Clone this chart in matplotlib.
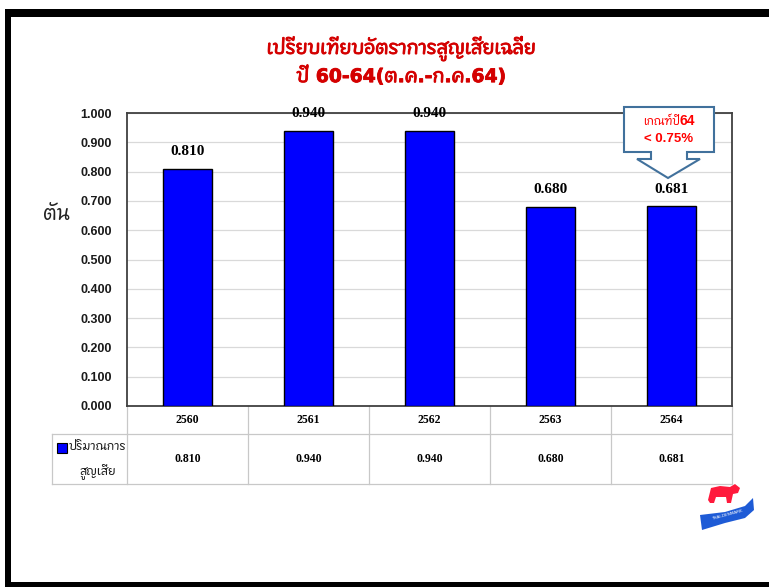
import matplotlib
matplotlib.use('Agg')
import matplotlib.pyplot as plt
import matplotlib.transforms as mtransforms
import matplotlib.patheffects as pe
from matplotlib.patches import Rectangle, Polygon
from matplotlib.lines import Line2D
from matplotlib import font_manager
from matplotlib.ft2font import FT2Font

years = ['2560', '2561', '2562', '2563', '2564']
loss = [0.810, 0.940, 0.940, 0.680, 0.681]
yticks = [0.0, 0.1, 0.2, 0.3, 0.4, 0.5, 0.6, 0.7, 0.8, 0.9, 1.0]
title = 'เปรียบเทียบอัตราการสูญเสียเฉลี่ย\nปี 60-64(ต.ค.-ก.ค.64)'
ylabel = 'ตัน'
series_name = ['ปริมาณการ', 'สูญเสีย']


# find any installed family that has Thai glyphs
def thai_family():
    best = None
    for f in font_manager.fontManager.ttflist:
        try:
            cmap = FT2Font(f.fname).get_charmap()
        except Exception:
            continue
        if 0x0E15 in cmap and 0x0E31 in cmap:
            if best is None or 'Sans' in f.name:
                best = f.name
    return best


TH = thai_family()
fam = [TH, 'DejaVu Sans'] if TH else ['DejaVu Sans']
plt.rcParams['font.family'] = fam
latin_first = ['DejaVu Sans', TH] if TH else ['DejaVu Sans']

W, H = 769, 587
fig = plt.figure(figsize=(W / 100, H / 100), dpi=100)


def fx(px):
    return px / W


def fy(py):
    return 1 - py / H


# black frame
for (x0, y0, x1, y1) in [(5, 9, 769, 17), (5, 9, 11, 587), (5, 582, 769, 587)]:
    fig.add_artist(Rectangle((fx(x0), fy(y1)), fx(x1) - fx(x0), fy(y0) - fy(y1),
                             transform=fig.transFigure, color='black', lw=0))

ax = fig.add_axes([fx(127), fy(406), fx(732) - fx(127), fy(113) - fy(406)])
x = list(range(len(years)))
ax.bar(x, loss, width=0.4, color='#0000ff', edgecolor='black', linewidth=1, zorder=3)
ax.set_xlim(-0.5, len(years) - 0.5)
ax.set_ylim(0, 1.0)
ax.set_yticks(yticks)
ax.set_yticklabels([f'{v:.3f}' for v in yticks], family='Liberation Sans',
                   fontweight='bold', fontsize=9, color='#1a1a1a')
ax.set_xticks([])
ax.tick_params(axis='y', length=0, pad=11)
ax.grid(axis='y', color='#d9d9d9', lw=0.9, zorder=0)
for s in ax.spines.values():
    s.set_color('#404040')
    s.set_linewidth(1.3)

for i, v in enumerate(loss):
    ax.annotate(f'{v:.3f}', (i, v), xytext=(0, 12.5), textcoords='offset points',
                ha='center', va='center', family='Liberation Serif',
                fontweight='bold', fontsize=11, zorder=5, annotation_clip=False)

# data table below the axis
tr = mtransforms.blended_transform_factory(ax.transData, ax.transAxes)
axh = 406 - 113
r1 = -(434 - 406) / axh
r2 = -(484 - 406) / axh
xl = -0.5 - 75 / 121
tc = '#c8c8c8'
ax.add_line(Line2D([xl, 4.5], [r1, r1], transform=tr, color=tc, lw=0.9, clip_on=False))
ax.add_line(Line2D([xl, 4.5], [r2, r2], transform=tr, color=tc, lw=0.9, clip_on=False))
ax.add_line(Line2D([xl, xl], [r1, r2], transform=tr, color=tc, lw=0.9, clip_on=False))
for b in [i - 0.5 for i in range(len(years) + 1)]:
    ax.add_line(Line2D([b, b], [0, r2], transform=tr, color=tc, lw=0.9, clip_on=False))
for i, (yr, v) in enumerate(zip(years, loss)):
    ax.text(i, r1 / 2, yr, transform=tr, ha='center', va='center',
            family='Liberation Serif', fontweight='bold', fontsize=8.5)
    ax.text(i, (r1 + r2) / 2, f'{v:.3f}', transform=tr, ha='center', va='center',
            family='Liberation Serif', fontweight='bold', fontsize=8.5)

fig.add_artist(Rectangle((fx(57), fy(453)), fx(67) - fx(57), fy(443) - fy(453),
                         transform=fig.transFigure, facecolor='#0000ff',
                         edgecolor='black', lw=0.8))
fig.text(fx(98), fy(447), series_name[0], ha='center', va='center', fontsize=8.5, color='#1a1a1a')
fig.text(fx(98), fy(471), series_name[1], ha='center', va='center', fontsize=8.5, color='#1a1a1a')

fig.text(fx(56), fy(214), ylabel, ha='center', va='center', fontsize=14, color='#222222')

fig.text(fx(401), fy(61), title, ha='center', va='center', fontsize=13.5,
         fontweight='bold', color='#d40000', linespacing=1.3, family=latin_first,
         path_effects=[pe.withStroke(linewidth=0.6, foreground='#d40000')])

# callout arrow
pts = [(624, 107), (714, 107), (714, 152), (687, 152), (687, 159), (700, 159),
       (668, 178), (637, 159), (651, 159), (651, 152), (624, 152)]
fig.add_artist(Polygon([(fx(a), fy(b)) for a, b in pts], closed=True,
                       transform=fig.transFigure, facecolor='white',
                       edgecolor='#41719c', lw=1.5, zorder=10))
fig.text(fx(680), fy(122), 'เกณฑ์ปี', ha='right', va='center', fontsize=8,
         color='#ff0000', zorder=11)
fig.text(fx(680), fy(121), '64', ha='left', va='center', fontsize=10,
         fontweight='bold', color='#ff0000', zorder=11, family='Liberation Sans')
fig.text(fx(669), fy(139), '< 0.75%', ha='center', va='center', fontsize=9.5,
         fontweight='bold', color='#ff0000', zorder=11, family='Liberation Sans')

# small logo
cow = [(708, 500), (711, 488), (720, 486), (730, 487), (735, 484), (740, 488),
       (738, 493), (733, 494), (731, 503), (727, 503), (726, 497), (716, 497),
       (714, 503), (710, 503)]
fig.add_artist(Polygon([(fx(a), fy(b)) for a, b in cow], transform=fig.transFigure,
                       facecolor='#ff1a3c', lw=0))
band = [(700, 515), (725, 512), (745, 506), (753, 498), (754, 510), (745, 518),
        (725, 523), (702, 530)]
fig.add_artist(Polygon([(fx(a), fy(b)) for a, b in band], transform=fig.transFigure,
                       facecolor='#1e5bd6', lw=0))
fig.text(fx(727), fy(515), 'THAI-DENMARK', ha='center', va='center', fontsize=3,
         color='white', rotation=15, family='DejaVu Sans')

fig.savefig('out.png', dpi=100)
